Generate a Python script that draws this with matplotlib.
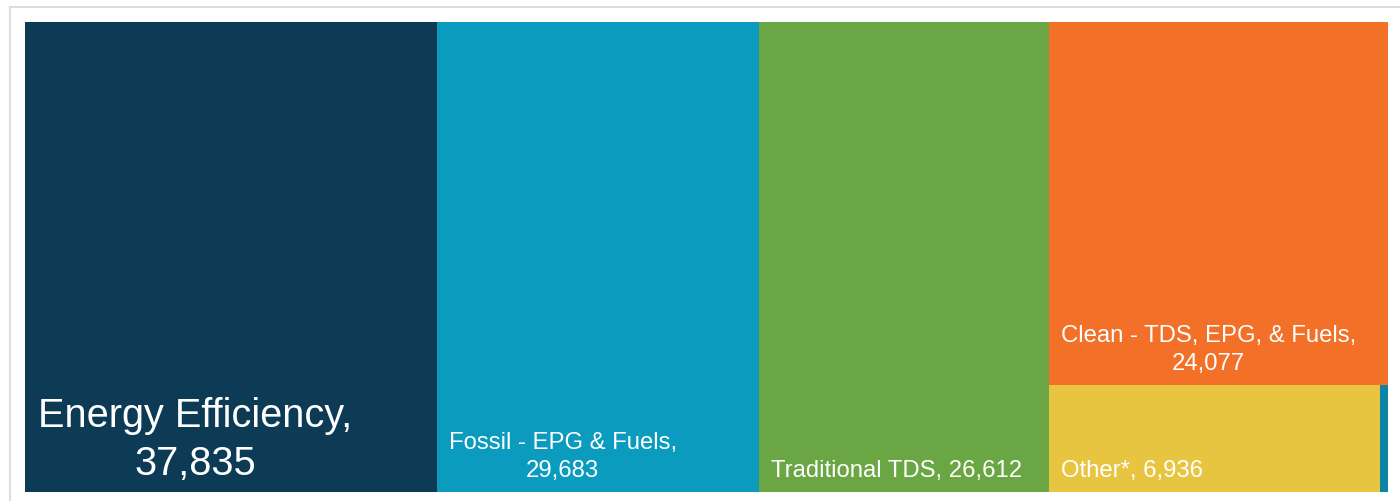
import matplotlib
matplotlib.use('Agg')
import matplotlib.pyplot as plt
from matplotlib.patches import Rectangle
from matplotlib.lines import Line2D

# Treemap data
names = ['Energy Efficiency', 'Fossil - EPG & Fuels', 'Traditional TDS',
         'Clean - TDS, EPG, & Fuels', 'Other*', '']
values = [37835, 29683, 26612, 24077, 6936, 160]
colors = ['#0d3a54', '#0b9bbf', '#6aa744', '#f27027', '#e8c540', '#0b84a5']

W, H = 1363.0, 470.0  # plot area in pixels


# --- small squarify implementation (Bruls et al.) ---
def layoutrow(sizes, x, y, dx, dy):
    width = sum(sizes) / dy
    rects = []
    for s in sizes:
        rects.append((x, y, width, s / width))
        y += s / width
    return rects


def layoutcol(sizes, x, y, dx, dy):
    height = sum(sizes) / dx
    rects = []
    for s in sizes:
        rects.append((x, y, s / height, height))
        x += s / height
    return rects


def layout(sizes, x, y, dx, dy):
    return layoutrow(sizes, x, y, dx, dy) if dx >= dy else layoutcol(sizes, x, y, dx, dy)


def leftover(sizes, x, y, dx, dy):
    if dx >= dy:
        width = sum(sizes) / dy
        return x + width, y, dx - width, dy
    height = sum(sizes) / dx
    return x, y + height, dx, dy - height


def worst_ratio(sizes, x, y, dx, dy):
    return max(max(r[2] / r[3], r[3] / r[2]) for r in layout(sizes, x, y, dx, dy))


def squarify(sizes, x, y, dx, dy):
    if len(sizes) == 0:
        return []
    if len(sizes) == 1:
        return layout(sizes, x, y, dx, dy)
    i = 1
    while i < len(sizes) and worst_ratio(sizes[:i], x, y, dx, dy) >= worst_ratio(sizes[:i + 1], x, y, dx, dy):
        i += 1
    current, remaining = sizes[:i], sizes[i:]
    return layout(current, x, y, dx, dy) + squarify(remaining, *leftover(current, x, y, dx, dy))


total = sum(values)
sizes = [v * W * H / total for v in values]
rects = squarify(sizes, 0, 0, W, H)

fig = plt.figure(figsize=(14, 5.01), dpi=100)
fig.patch.set_facecolor('white')

# light grey container border (cropped on right/bottom)
fig.add_artist(Line2D([10 / 1400, 10 / 1400], [0, 1 - 7 / 501], transform=fig.transFigure,
                      color='#dddddd', lw=1.5))
fig.add_artist(Line2D([10 / 1400, 1], [1 - 7 / 501, 1 - 7 / 501], transform=fig.transFigure,
                      color='#dddddd', lw=1.5))

ax = fig.add_axes([25 / 1400, 9 / 501, W / 1400, H / 501])
ax.set_xlim(0, W)
ax.set_ylim(H, 0)
ax.axis('off')

fig.canvas.draw()
renderer = fig.canvas.get_renderer()

pad = 12
for i, (r, name, val, col) in enumerate(zip(rects, names, values, colors)):
    x, y, w, h = r
    ax.add_patch(Rectangle((x, y), w, h, facecolor=col, edgecolor='none'))
    if not name:
        continue
    fs = 28.6 if i == 0 else 17.2
    ls = 1.33
    bottom = 9 if i == 0 else 10
    label = f'{name}, {val:,}'
    t = ax.text(x + pad + (1 if i == 0 else 0), y + h - bottom, label, color='white',
                fontsize=fs, family='Liberation Sans', ha='left', va='bottom',
                multialignment='center', linespacing=ls)
    if t.get_window_extent(renderer).width > w - 2 * pad:
        t.set_text(f'{name},\n{val:,}')

fig.savefig('out.png', dpi=100, facecolor='white')
plt.close(fig)
